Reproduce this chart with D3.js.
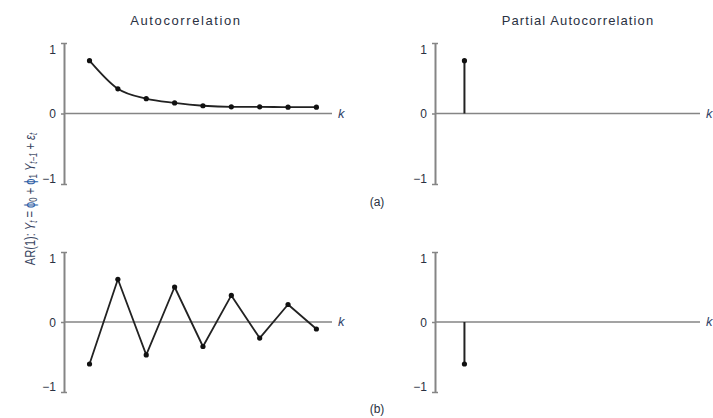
<!DOCTYPE html>
<html>
<head>
<meta charset="utf-8">
<script src="https://cdn.jsdelivr.net/npm/d3@7"></script>
<style>
  body { margin: 0; background: #fff; }
  svg { display: block; font-family: "Liberation Sans", Arial, sans-serif; }
</style>
</head>
<body>
<script>
// lags and values
const lags = [1, 2, 3, 4, 5, 6, 7, 8, 9];
const acfA = [0.75, 0.35, 0.21, 0.15, 0.11, 0.095, 0.095, 0.09, 0.09];
const pacfA = [0.75];
const acfB = [-0.6, 0.61, -0.47, 0.5, -0.35, 0.38, -0.23, 0.25, -0.1];
const pacfB = [-0.6];
const yTicks = [-1, 0, 1];
const titles = ["Autocorrelation", "Partial Autocorrelation"];
const rowLabels = ["(a)", "(b)"];

const width = 713, height = 418;
const textColor = "#2a3142";
const axisColor = "#858585";
const lineColor = "#222";

const svg = d3.select("body").append("svg")
    .attr("width", width)
    .attr("height", height);

// x scales for left / right columns
const xLeft = d3.scaleLinear().domain([0.1, 9.55]).range([64, 332]);
const xRight = d3.scaleLinear().domain([0, 9]).range([435, 700]);
// y scales for top / bottom rows
const yTop = d3.scaleLinear().domain([-1, 1]).range([184, 43]);
const yBot = d3.scaleLinear().domain([-1, 1]).range([392, 252]);

function panel(x, y, values, kind) {
    const g = svg.append("g");
    const x0 = x.range()[0];

    // vertical axis with caps at +-1
    const axis = d3.axisLeft(y).tickValues(yTicks)
        .tickFormat(d => d < 0 ? "\u22121" : d)
        .tickSize(0).tickSizeOuter(0).tickPadding(8);
    const ga = g.append("g")
        .attr("transform", `translate(${x0},0)`)
        .call(axis);
    ga.select(".domain").attr("stroke", axisColor).attr("stroke-width", 2);
    ga.selectAll(".tick line")
        .attr("x1", -3).attr("x2", d => d === 0 ? 0 : 3)
        .attr("stroke", axisColor).attr("stroke-width", 1.5);
    ga.selectAll(".tick text")
        .attr("fill", textColor)
        .style("font-size", "12px")
        .attr("dy", d => d === 1 ? "0.85em" : d === -1 ? "-0.1em" : "0.35em");

    // zero line
    g.append("line")
        .attr("x1", x0).attr("x2", x.range()[1])
        .attr("y1", y(0)).attr("y2", y(0))
        .attr("stroke", axisColor).attr("stroke-width", 1.6);

    g.append("text")
        .attr("x", x.range()[1] + 6)
        .attr("y", y(0) + 4)
        .attr("fill", "#2f4468")
        .style("font-size", "13px")
        .style("font-style", "italic")
        .text("k");

    const pts = values.map((v, i) => [lags[i], v]);

    if (kind === "curve" || kind === "line") {
        g.append("path")
            .datum(pts)
            .attr("fill", "none")
            .attr("stroke", lineColor)
            .attr("stroke-width", 1.8)
            .attr("stroke-linejoin", "round")
            .attr("d", d3.line()
                .curve(kind === "curve" ? d3.curveMonotoneX : d3.curveLinear)
                .x(d => x(d[0])).y(d => y(d[1])));
    } else {
        g.selectAll(".stem").data(pts).join("line")
            .attr("x1", d => x(d[0])).attr("x2", d => x(d[0]))
            .attr("y1", y(0)).attr("y2", d => y(d[1]))
            .attr("stroke", lineColor).attr("stroke-width", 2);
    }

    g.selectAll("circle").data(pts).join("circle")
        .attr("cx", d => x(d[0]))
        .attr("cy", d => y(d[1]))
        .attr("r", 2.6)
        .attr("fill", "#111");
}

panel(xLeft, yTop, acfA, "curve");
panel(xRight, yTop, pacfA, "stem");
panel(xLeft, yBot, acfB, "line");
panel(xRight, yBot, pacfB, "stem");

// column titles
svg.selectAll(".title").data(titles).join("text")
    .attr("x", (d, i) => i === 0 ? 186 : 578)
    .attr("y", 25)
    .attr("text-anchor", "middle")
    .attr("fill", textColor)
    .style("font-size", "13px")
    .style("letter-spacing", (d, i) => i === 0 ? "1.6px" : "1.1px")
    .text(d => d);

// row labels
svg.selectAll(".row").data(rowLabels).join("text")
    .attr("x", 377)
    .attr("y", (d, i) => i === 0 ? 206 : 413)
    .attr("text-anchor", "middle")
    .attr("fill", textColor)
    .style("font-size", "12px")
    .text(d => d);

// rotated model label (condensed, like the original typeface)
const lab = svg.append("text")
    .attr("transform", "translate(35,199) rotate(-90) scale(0.79,1)")
    .attr("text-anchor", "middle")
    .attr("fill", "#3a4662")
    .style("font-size", "14px");

const parts = [
    ["AR(1): ", null], ["Y", "i"], ["t", "sub"], [" = ", null],
    ["\u03d5", "phi"], ["0", "sub"], [" + ", null],
    ["\u03d5", "phi"], ["1", "sub"], [" ", null], ["Y", "i"], ["t\u22121", "sub"],
    [" + ", null], ["\u03b5", "i"], ["t", "sub"]
];
parts.forEach(([t, s]) => {
    const ts = lab.append("tspan").text(t);
    if (s === "i") ts.style("font-style", "italic");
    if (s === "phi") ts.attr("fill", "#2d5ea6");
    if (s === "sub") {
        ts.attr("baseline-shift", "-25%").style("font-size", "10px");
        if (t !== "0" && t !== "1") ts.style("font-style", "italic");
    }
});
</script>
</body>
</html>
